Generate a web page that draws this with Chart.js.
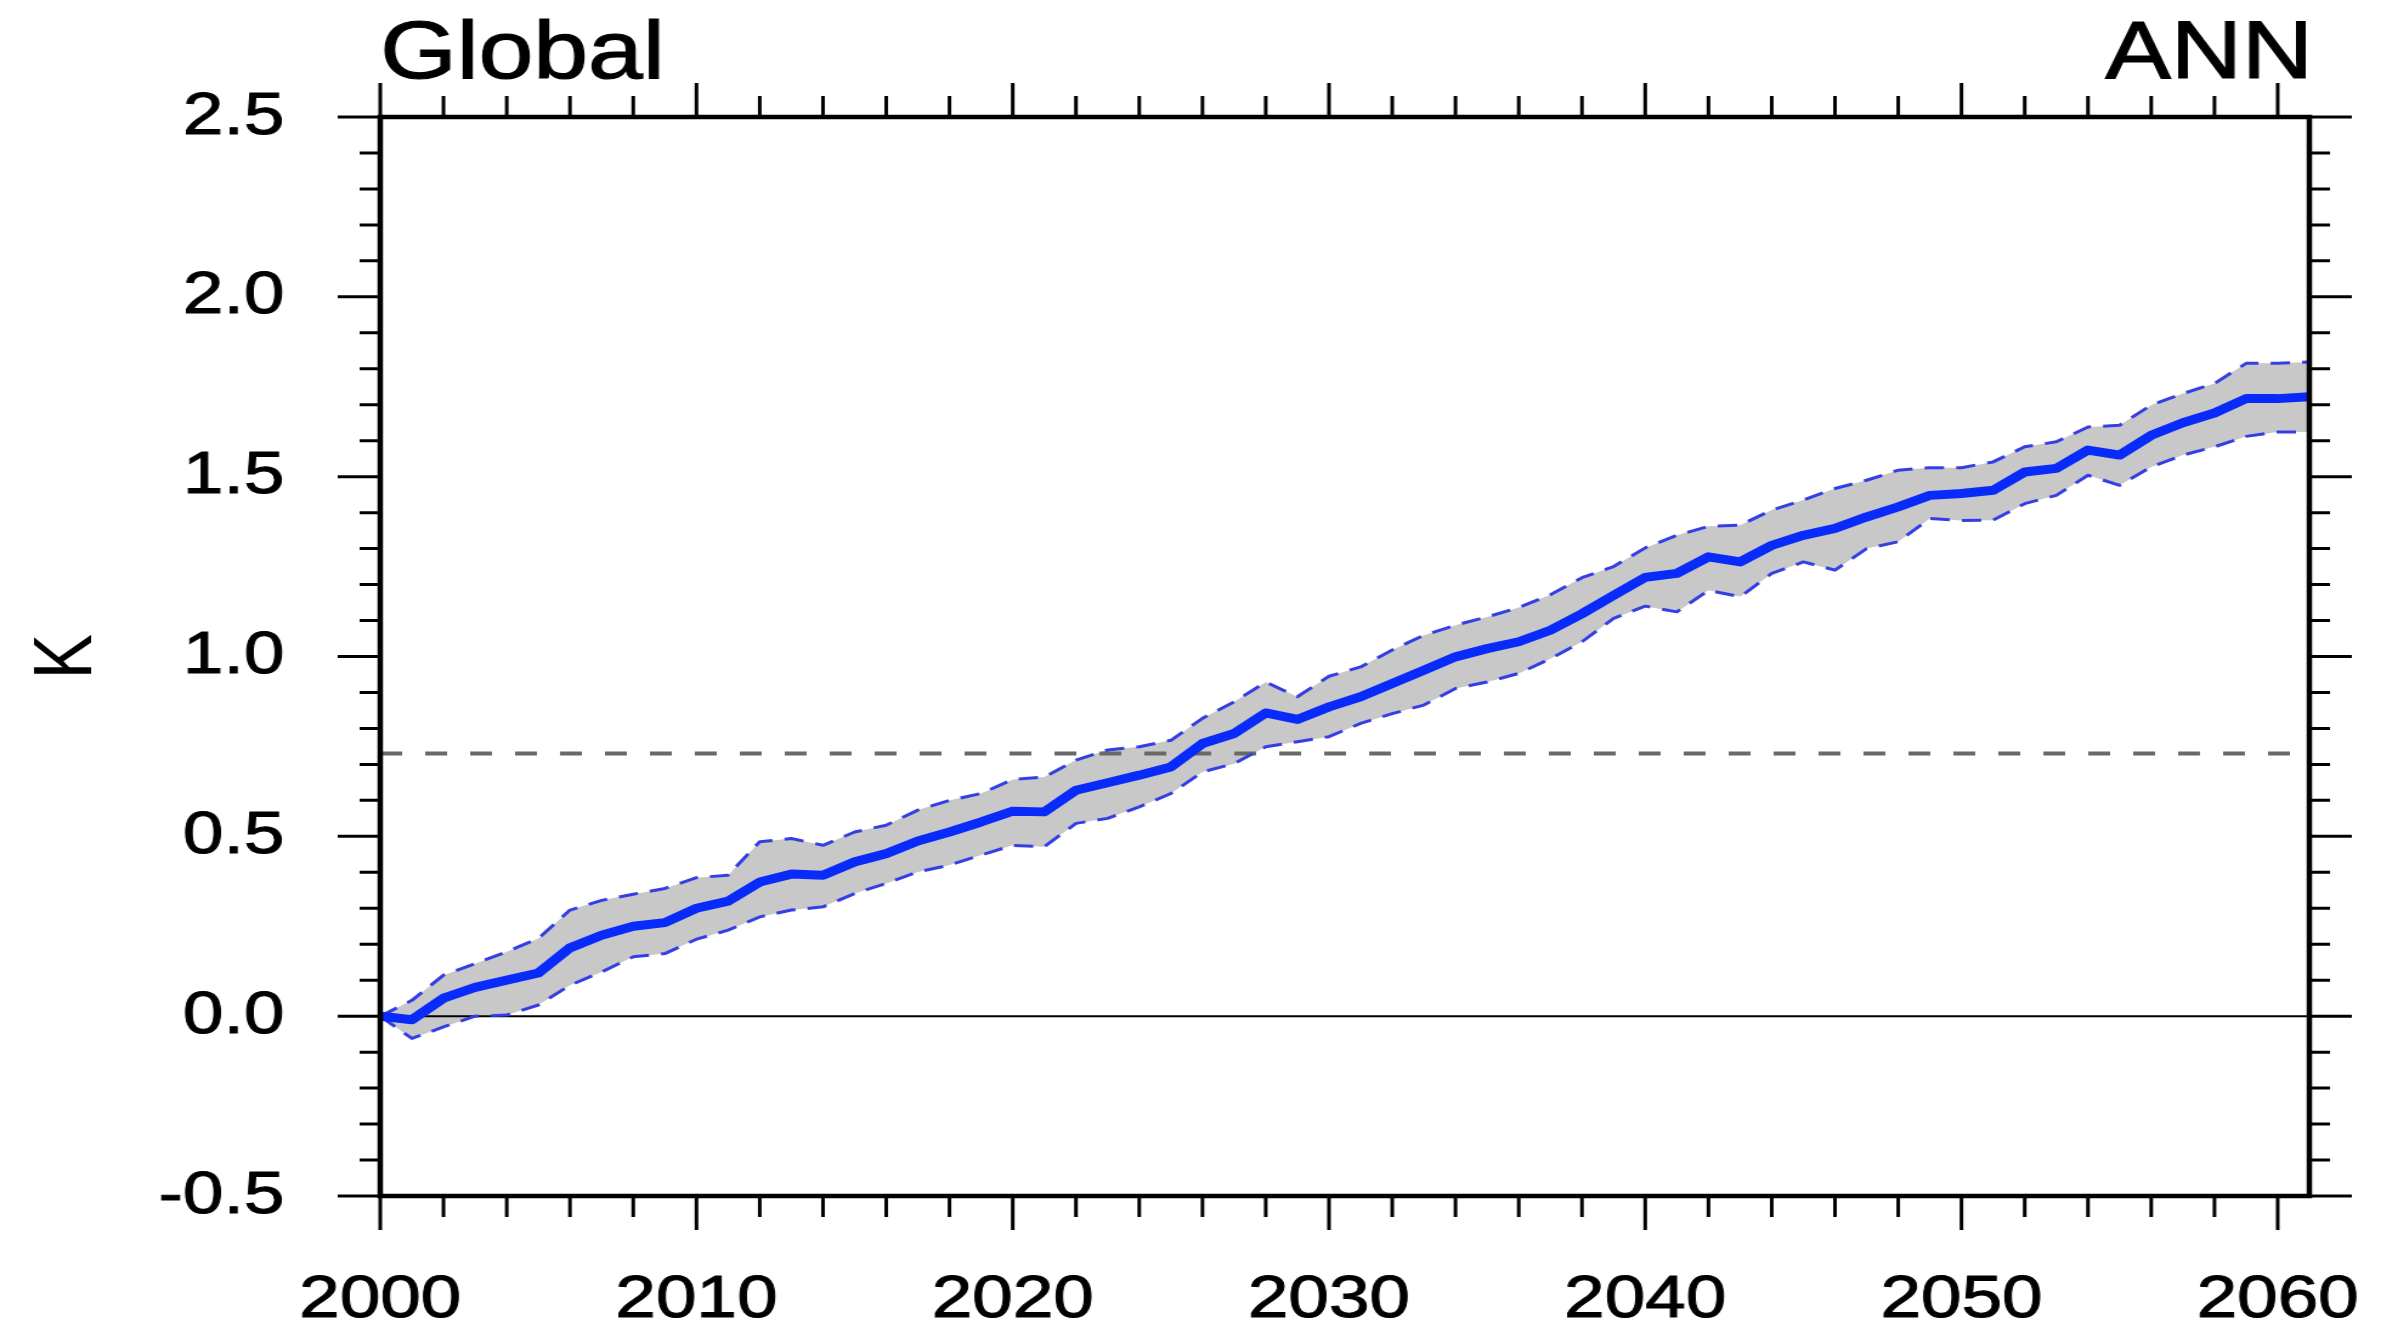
<!DOCTYPE html>
<html>
<head>
<meta charset="utf-8">
<title>Global ANN</title>
<script src="https://cdn.jsdelivr.net/npm/chart.js@4.4.1/dist/chart.umd.min.js"></script>
<style>
  html, body { margin: 0; padding: 0; background: #fff; overflow: hidden; width: 2381px; height: 1322px; }
  /* the figure is drawn on a narrower canvas and widened, giving the stretched lettering */
  #wrap { width: 1960px; height: 1322px; transform: scaleX(1.214796); transform-origin: 0 0; }
  canvas { display: block; }
</style>
</head>
<body>
<div id="wrap"><canvas id="chart" width="1960" height="1322"></canvas></div>
<script>
// Annual global-mean temperature change (K) relative to 2000
const years = [
  2000, 2001, 2002, 2003, 2004, 2005, 2006, 2007, 2008, 2009,
  2010, 2011, 2012, 2013, 2014, 2015, 2016, 2017, 2018, 2019,
  2020, 2021, 2022, 2023, 2024, 2025, 2026, 2027, 2028, 2029,
  2030, 2031, 2032, 2033, 2034, 2035, 2036, 2037, 2038, 2039,
  2040, 2041, 2042, 2043, 2044, 2045, 2046, 2047, 2048, 2049,
  2050, 2051, 2052, 2053, 2054, 2055, 2056, 2057, 2058, 2059,
  2060, 2061
];

// ensemble mean
const meanK = [
  0.000, -0.010, 0.050, 0.080, 0.100, 0.120, 0.190, 0.225, 0.250, 0.260,
  0.300, 0.320, 0.373, 0.395, 0.392, 0.429, 0.452, 0.487, 0.512, 0.540,
  0.570, 0.568, 0.628, 0.649, 0.670, 0.693, 0.758, 0.786, 0.843, 0.825,
  0.860, 0.888, 0.925, 0.962, 0.999, 1.022, 1.041, 1.073, 1.119, 1.170,
  1.220, 1.231, 1.277, 1.263, 1.309, 1.337, 1.356, 1.388, 1.416, 1.448,
  1.453, 1.462, 1.513, 1.523, 1.574, 1.560, 1.615, 1.650, 1.677, 1.717,
  1.717, 1.722
];

// upper edge of the ensemble spread
const upperK = [
  0.000, 0.044, 0.114, 0.146, 0.179, 0.216, 0.295, 0.322, 0.339, 0.355,
  0.385, 0.392, 0.485, 0.494, 0.475, 0.512, 0.531, 0.573, 0.600, 0.619,
  0.658, 0.665, 0.712, 0.740, 0.749, 0.767, 0.828, 0.874, 0.929, 0.888,
  0.945, 0.971, 1.018, 1.059, 1.087, 1.110, 1.136, 1.172, 1.219, 1.250,
  1.302, 1.337, 1.362, 1.365, 1.407, 1.435, 1.467, 1.490, 1.518, 1.525,
  1.525, 1.541, 1.583, 1.597, 1.638, 1.643, 1.699, 1.731, 1.759, 1.815,
  1.815, 1.819
];

// lower edge of the ensemble spread
const lowerK = [
  0.000, -0.062, -0.030, 0.000, 0.003, 0.031, 0.086, 0.123, 0.165, 0.174,
  0.214, 0.239, 0.276, 0.295, 0.304, 0.341, 0.369, 0.401, 0.420, 0.448,
  0.475, 0.471, 0.536, 0.550, 0.582, 0.619, 0.679, 0.702, 0.749, 0.763,
  0.777, 0.814, 0.841, 0.865, 0.911, 0.929, 0.953, 0.994, 1.041, 1.106,
  1.140, 1.124, 1.184, 1.166, 1.231, 1.263, 1.240, 1.300, 1.319, 1.384,
  1.378, 1.379, 1.425, 1.448, 1.504, 1.476, 1.527, 1.560, 1.583, 1.612,
  1.624, 1.624
];

// reference warming level (dashed line)
const refLevel = 0.73;

const yearTicks = [2000, 2010, 2020, 2030, 2040, 2050, 2060];
const kTicks = [-0.5, 0.0, 0.5, 1.0, 1.5, 2.0, 2.5];

const leftTitle = 'Global';
const rightTitle = 'ANN';
const yTitle = 'K';

const FONT = '"Liberation Sans", Arial, Helvetica, sans-serif';

const toPoints = arr => years.map((yr, i) => ({ x: yr, y: arr[i] }));
const flatLine = v => [{ x: years[0], y: v }, { x: years[years.length - 1], y: v }];

// Frame with outward major/minor tick marks on all four sides
const frameAndTicks = {
  id: 'frameAndTicks',
  afterDatasetsDraw(chart) {
    const { ctx, chartArea: a, scales: { x, y } } = chart;
    ctx.save();
    ctx.strokeStyle = '#000';
    ctx.lineCap = 'butt';

    ctx.lineWidth = 3;
    ctx.beginPath();
    for (let yr = x.min; yr <= x.max; yr += 2) {
      const px = x.getPixelForValue(yr);
      const len = yr % 10 === 0 ? 34 : 21;
      ctx.moveTo(px, a.bottom); ctx.lineTo(px, a.bottom + len);
      ctx.moveTo(px, a.top); ctx.lineTo(px, a.top - len);
    }
    for (let i = Math.round(y.min * 10); i <= Math.round(y.max * 10); i++) {
      const py = y.getPixelForValue(i / 10);
      const len = i % 5 === 0 ? 35 : 17;
      ctx.moveTo(a.left, py); ctx.lineTo(a.left - len, py);
      ctx.moveTo(a.right, py); ctx.lineTo(a.right + len, py);
    }
    ctx.stroke();

    ctx.lineWidth = 4.5;
    ctx.strokeRect(a.left, a.top, a.right - a.left, a.bottom - a.top);
    ctx.restore();
  }
};

// Region / season strings above the frame
const cornerTitles = {
  id: 'cornerTitles',
  afterDraw(chart) {
    const { ctx, chartArea: a } = chart;
    ctx.save();
    ctx.fillStyle = '#000';
    ctx.strokeStyle = '#000';
    ctx.lineWidth = 1.2;
    ctx.font = '81px ' + FONT;
    ctx.textBaseline = 'alphabetic';
    ctx.textAlign = 'left';
    ctx.fillText(leftTitle, a.left, 78);
    ctx.strokeText(leftTitle, a.left, 78);
    ctx.textAlign = 'right';
    ctx.fillText(rightTitle, a.right + 3, 78);
    ctx.strokeText(rightTitle, a.right + 3, 78);
    ctx.restore();
  }
};

new Chart(document.getElementById('chart'), {
  type: 'line',
  data: {
    datasets: [
      {
        label: 'mean',
        data: toPoints(meanK),
        borderColor: 'rgb(8, 42, 250)',
        borderWidth: 9,
        pointRadius: 0,
        fill: false,
        order: 0
      },
      {
        label: 'upper',
        data: toPoints(upperK),
        borderColor: 'rgb(52, 62, 228)',
        borderWidth: 3,
        borderDash: [16, 10],
        pointRadius: 0,
        fill: '+1',
        backgroundColor: 'rgb(200, 200, 200)',
        order: 1
      },
      {
        label: 'lower',
        data: toPoints(lowerK),
        borderColor: 'rgb(52, 62, 228)',
        borderWidth: 3,
        borderDash: [16, 10],
        pointRadius: 0,
        fill: false,
        order: 1
      },
      {
        label: 'reference',
        data: flatLine(refLevel),
        borderColor: 'rgb(105, 105, 105)',
        borderWidth: 4,
        borderDash: [18, 19],
        pointRadius: 0,
        fill: false,
        order: 2
      },
      {
        label: 'zero',
        data: flatLine(0),
        borderColor: '#000',
        borderWidth: 2,
        pointRadius: 0,
        fill: false,
        order: 2
      }
    ]
  },
  options: {
    responsive: false,
    animation: false,
    devicePixelRatio: 1,
    events: [],
    layout: { padding: { top: 117, right: 59, left: 0, bottom: 0 } },
    elements: { line: { tension: 0, borderCapStyle: 'butt', borderJoinStyle: 'round' } },
    plugins: {
      legend: { display: false },
      tooltip: { enabled: false },
      filler: { drawTime: 'beforeDatasetsDraw' }
    },
    scales: {
      x: {
        type: 'linear',
        position: 'bottom',
        min: 2000,
        max: 2061,
        afterBuildTicks: s => { s.ticks = yearTicks.map(v => ({ value: v })); },
        afterFit: s => { s.height = 126; s.paddingLeft = 0; s.paddingRight = 0; },
        grid: { display: false, drawTicks: false },
        border: { display: false },
        ticks: {
          color: '#000',
          textStrokeColor: '#000',
          textStrokeWidth: 1,
          font: { family: FONT, size: 60 },
          padding: 68,
          maxRotation: 0,
          autoSkip: false,
          callback: v => String(v)
        }
      },
      y: {
        type: 'linear',
        position: 'left',
        min: -0.5,
        max: 2.5,
        afterBuildTicks: s => { s.ticks = kTicks.map(v => ({ value: v })); },
        afterFit: s => { s.width = 313; s.paddingTop = 0; s.paddingBottom = 0; },
        grid: { display: false, drawTicks: false },
        border: { display: false },
        ticks: {
          color: '#000',
          textStrokeColor: '#000',
          textStrokeWidth: 1,
          font: { family: FONT, size: 60 },
          padding: 79,
          autoSkip: false,
          callback: v => v.toFixed(1)
        },
        title: {
          display: true,
          text: yTitle,
          color: '#000',
          font: { family: FONT, size: 68 },
          padding: { top: 15, bottom: 0 }
        }
      }
    }
  },
  plugins: [frameAndTicks, cornerTitles]
});
</script>
</body>
</html>
